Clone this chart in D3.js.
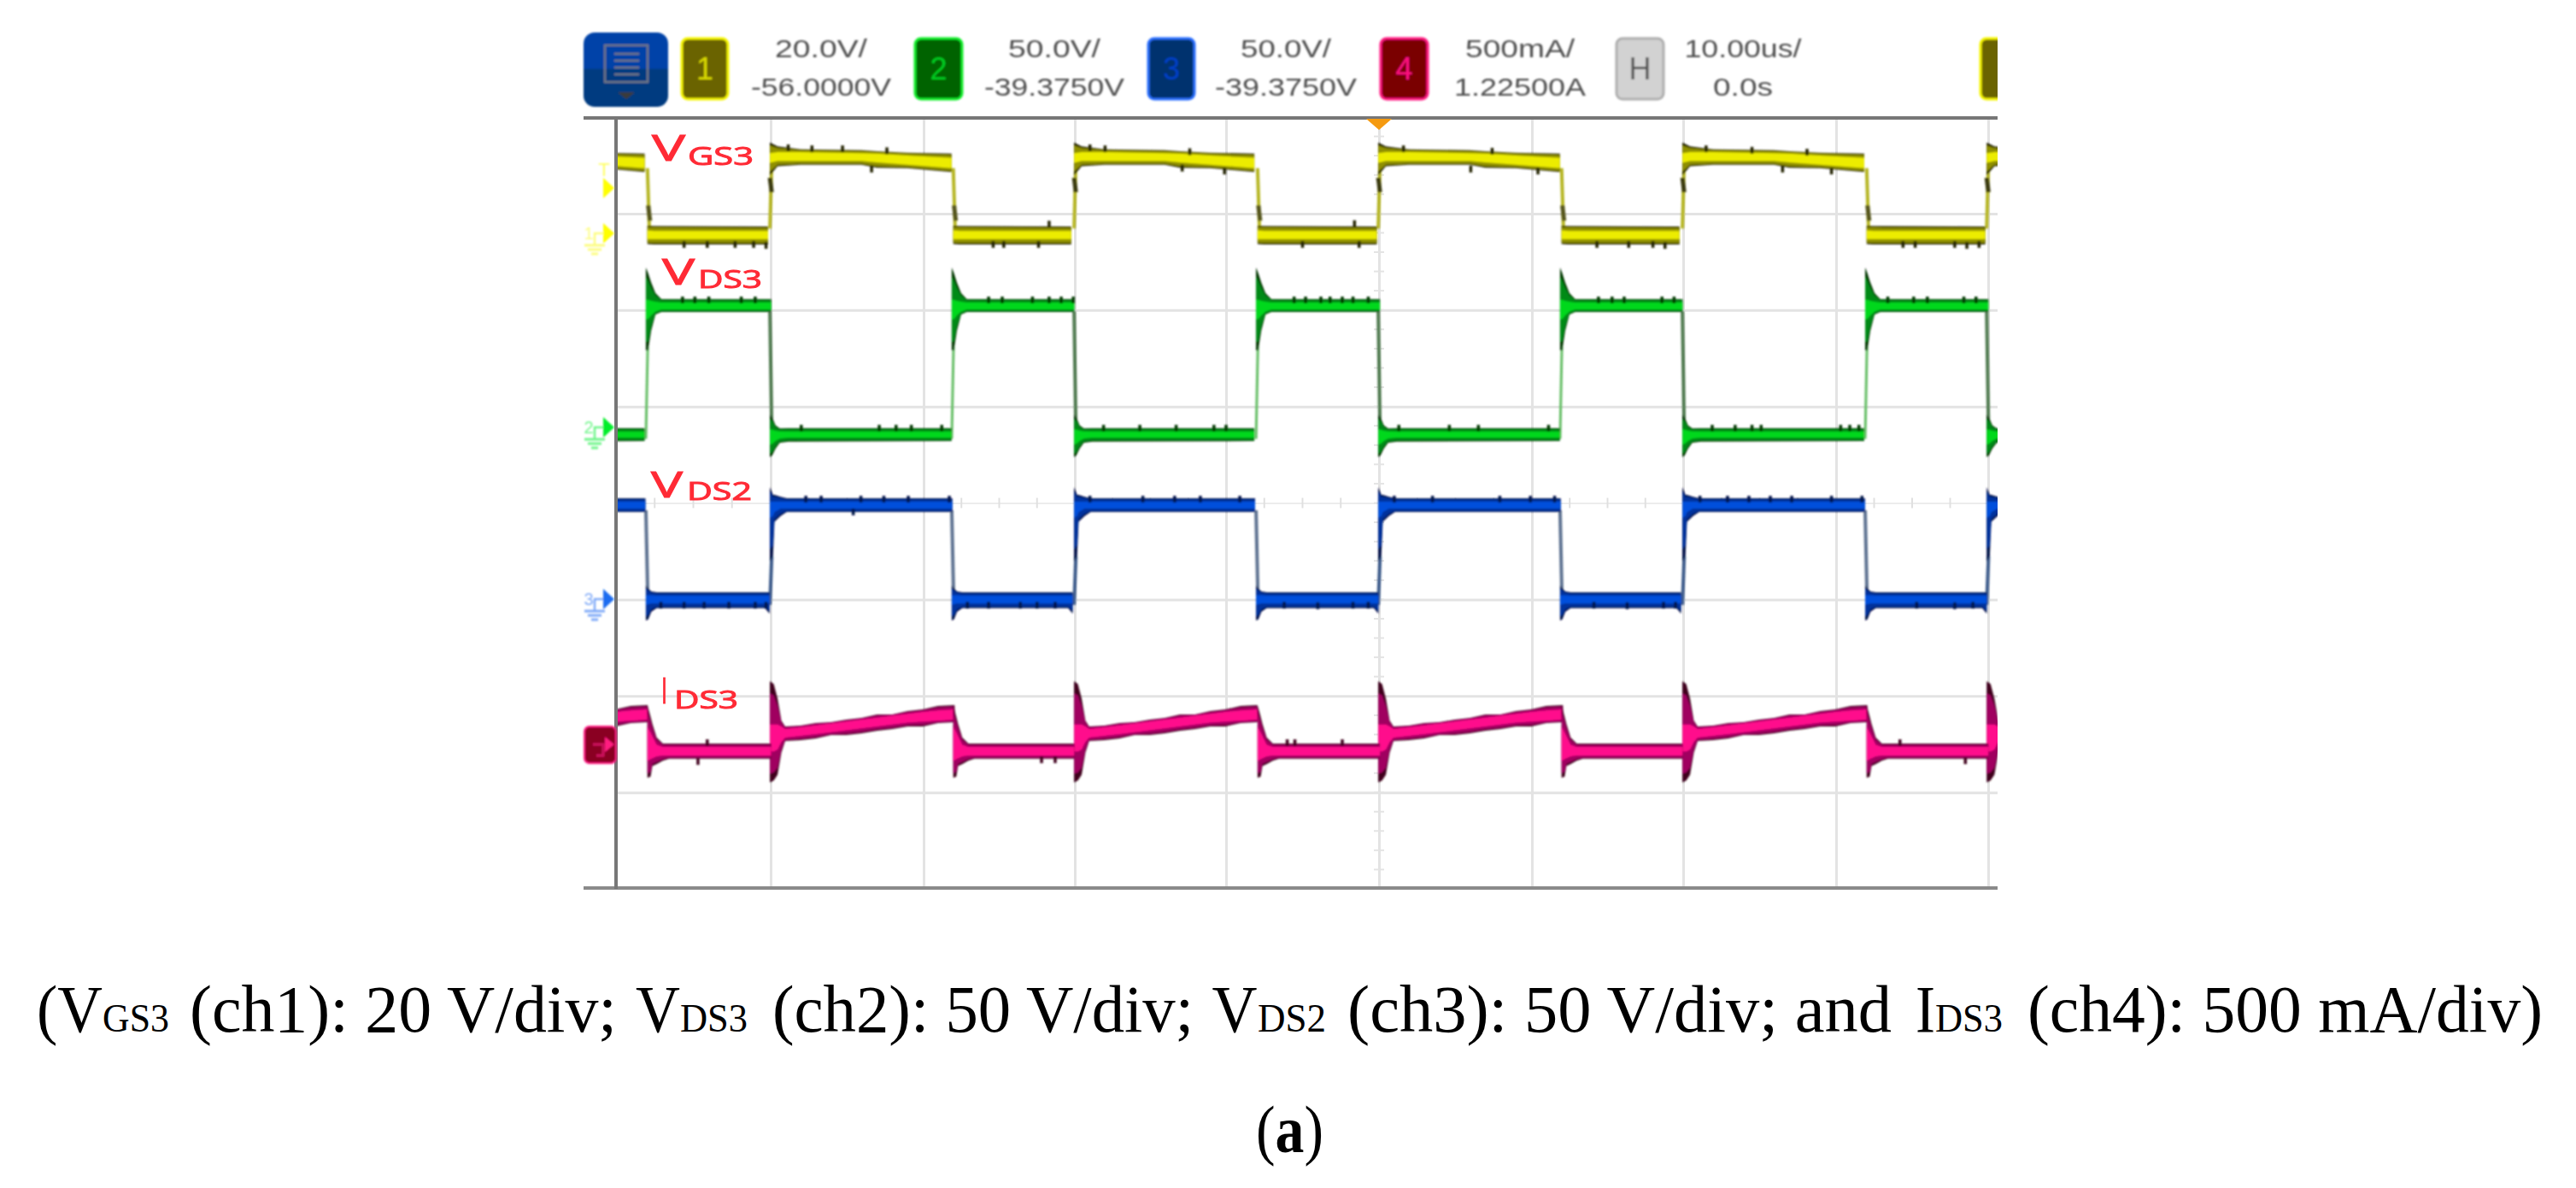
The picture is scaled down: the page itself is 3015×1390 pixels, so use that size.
<!DOCTYPE html><html><head><meta charset="utf-8"><script src="https://cdn.jsdelivr.net/npm/d3@7/dist/d3.min.js"></script>
<style>html,body{margin:0;background:#fff}svg{display:block}</style></head><body><script>
// ---- data (time in us, channels in V or A) ----
const gridTimes=[0,10,20,30,40,50,60,70,80,90];
const gridDivs=[0,1,2,3,4,5,6,7,8];
const riseTimes=[-10.05,9.95,29.95,49.95,69.95,89.9];
const fallTimes=[1.93,21.86,41.96,61.86,81.91];
// phase rows: [dt, outerTop, outerBottom, coreTop, coreBottom]
const ch1High=[[0,18.8,12,16.6,14.6],[0.5,18,13.9,16.8,15],[2,17.4,14.2,16.8,15],[6,17.2,14.2,16.6,15],[7,17,13.6,16.5,14.7],[9,16.7,13.5,16.1,14.2],[11.9,16.5,12.7,15.6,13.5]];
const ch1Low=[[0.1,1.6,-2.2,0.6,-1.2],[0.5,1.5,-2.3,0.5,-1.2],[7.9,1.4,-2.3,0.5,-1.2]];
const ch2High=[[0,82.7,39.8,66,56],[0.14,80,39.8,66,56],[0.34,75,50,65.5,58],[0.62,69.5,58.4,65,60],[1,66.4,59.7,64.6,61.1],[8.1,66.4,59.7,64.6,61.1]];
const ch2Low=[[0,6.6,-15.5,-1,-9],[0.15,5,-14.5,-1.2,-8.5],[0.37,1,-11,-1.8,-7],[0.65,-0.5,-8,-2.1,-5.8],[1.2,-0.4,-7.4,-2.2,-5.3],[11.9,-0.4,-7.1,-2.2,-5.3]];
const ch3High=[[0,58,19.5,50.4,42],[0.2,54,22,50.4,43],[0.3,54,40,50.4,45],[0.7,53,43,50.4,46.9],[1.1,52.2,45.1,50.4,46.9],[11.95,52.2,45.1,50.4,46.9]];
const ch3Low=[[0,7.1,-11.1,2,-3],[0.15,5.5,-10.5,2,-2.6],[0.35,4,-6.5,2,-2.2],[0.7,3.5,-4.6,1.8,-2.2],[7.7,3.5,-4.6,1.8,-2.2],[8,3.5,-7.5,1.8,-2.2]];
const ch4High=[[0,0.314,-0.21,0.09,-0.05],[0.25,0.3,-0.2,0.09,-0.05],[0.5,0.225,-0.17,0.09,-0.04],[0.75,0.11,-0.055,0.08,0],[1,0.08,0.004,0.066,0.022],[2,0.084,0.009,0.075,0.031],[3,0.097,0.018,0.085,0.04],[4,0.102,0.035,0.095,0.05],[5,0.115,0.035,0.105,0.06],[6,0.124,0.044,0.115,0.07],[7,0.142,0.058,0.125,0.08],[8,0.142,0.066,0.135,0.09],[9,0.159,0.08,0.145,0.1],[10,0.168,0.08,0.155,0.105],[11,0.186,0.097,0.163,0.11],[12.1,0.19,0.102,0.168,0.115]];
const ch4Low=[[0.1,0.19,-0.186,0.08,-0.1],[0.3,0.13,-0.18,0.05,-0.09],[0.42,0.093,-0.125,0.03,-0.085],[0.7,0.022,-0.115,-0.015,-0.075],[1.1,-0.009,-0.097,-0.027,-0.071],[1.5,-0.009,-0.087,-0.027,-0.071],[8.1,-0.009,-0.087,-0.027,-0.071]];
// noise spikes: [t, tip]
const ch1Up=[[11.15,18.4],[12.7,18.2],[14.7,18.2],[17.6,17.8],[28.3,2.6],[31,18.4],[32,18.2],[37.6,17.6],[48.4,2.7],[51.6,18.2],[57.4,17.7],[71.5,18.2],[74.5,17.9],[78.1,17.5]];
const ch1Down=[[4.4,-3],[5.9,-3],[7.7,-3],[8.9,-3],[9.7,-3.2],[16.6,12.6],[24.6,-3],[25.3,-3],[27.6,-3],[37.1,12.8],[39.9,12.2],[45,-3],[48.7,-3],[56,12.6],[60.4,12.2],[64.3,-3],[66.4,-3],[68,-3],[68.8,-3.2],[76.5,12.6],[79.7,12.2],[84.4,-3],[85.2,-3],[87.8,-3],[88.6,-3.2],[89.4,-3]];
const ch2Up=[[4.3,67.7],[5.1,67.7],[6,67.7],[8.1,67.7],[9,67.7],[12,1.3],[17.1,1.3],[18.2,1.3],[19.2,1.3],[21.2,1.3],[24.3,67.7],[25.2,67.7],[27.2,67.7],[28.3,67.7],[29.1,67.7],[29.9,67.7],[31.9,1.3],[34.3,1.3],[36.7,1.3],[39.2,1.3],[40,1.3],[44.45,67.7],[45.2,67.7],[46.2,67.7],[46.8,67.7],[47.6,67.7],[48.3,67.7],[49.3,67.7],[51.3,1.3],[54.6,1.3],[56.5,1.3],[61.1,1.3],[64.4,67.7],[65.3,67.7],[66.1,67.7],[68.6,67.7],[69.4,67.7],[71.9,1.3],[73.4,1.3],[74.5,1.3],[75.1,1.3],[80.3,1.3],[80.9,1.3],[81.5,1.3],[83.4,67.7],[85.1,67.7],[86,67.7],[88.4,67.7],[89.2,67.7]];
const ch3Up=[[12.3,53.5],[13.3,53.5],[15.9,53.5],[17.4,53.5],[19,53.5],[21.7,53.5],[31,53.5],[34.5,53.5],[36.6,53.5],[38.3,53.5],[40.9,53.5],[51,53.5],[53.5,53.5],[57.9,53.5],[59.9,53.5],[61.5,53.5],[71.1,53.5],[72.9,53.5],[74.3,53.5],[75.7,53.5],[77.1,53.5],[79.7,53.5],[81.7,53.5]];
const ch3Down=[[2.9,-4.9],[4.4,-4.9],[5.7,-4.9],[7.3,-4.9],[9,-4.9],[9.7,-4.9],[15.4,43.4],[22.9,-4.9],[24.3,-4.9],[26.4,-4.9],[27.5,-4.9],[28.7,-4.9],[43.8,-4.9],[46,-5.2],[48.3,-4.9],[49.3,-4.9],[64.1,-4.9],[66.3,-5.2],[68.7,-4.9],[69.5,-4.9],[85.3,-4.9],[87.8,-5.2],[89,-4.9]];
const ch4Up=[[5.9,0.013],[44,0.013],[44.5,0.013],[47.6,0.013],[84.2,0.013]];
const ch4Down=[[5.3,-0.119],[27.8,-0.11],[28.7,-0.11],[88.5,-0.115]];
// edge transitions [fromValue,toValue]
const ch1FallEdge=[13.5,1.4], ch1RiseEdge=[1,15], ch1FallBlob=[5.8,2.6], ch1RiseBlob=[11.5,8.5];
const ch2RiseEdge=[-6,42], ch2FallEdge=[60,-1];
const ch3FallEdge=[46,3], ch3RiseEdge=[-3,22];
// header
const menuLabels=["1","2","3","4","H"];
const scaleLabels=["20.0V/","50.0V/","50.0V/","500mA/","10.00us/"];
const offsetLabels=["-56.0000V","-39.3750V","-39.3750V","1.22500A","0.0s"];
const captionParts=["(V","GS3","(ch1): 20 V/div;","V","DS3","(ch2): 50 V/div;","V","DS2","(ch3): 50 V/div; and","I","DS3","(ch4): 500 mA/div)"];

// ---- page ----
const svg=d3.select("body").append("svg").attr("width",3015).attr("height",1390);
const defs=svg.append("defs");
[["blurMark",0.9],["blurText",1.0],["blurGrid",0.7]].forEach(([id,sd])=>defs.append("filter").attr("id",id)
  .attr("x","-5%").attr("y","-5%").attr("width","110%").attr("height","110%")
  .append("feGaussianBlur").attr("stdDeviation",sd));
defs.append("clipPath").attr("id","plotClip").append("rect").attr("x",721).attr("y",136).attr("width",1617).attr("height",904);
const mg=defs.append("linearGradient").attr("id","menuFill").attr("x1",0).attr("x2",0).attr("y1",0).attr("y2",1);
[[0,"#0342a8"],[.48,"#0342a8"],[.5,"#053b80"],[1,"#053b80"]].forEach(([o,c])=>mg.append("stop").attr("offset",o).attr("stop-color",c));

const x=d3.scaleLinear().domain([...gridTimes,90.6]).range([721,902,1081,1258,1435,1614,1793,1970,2149,2327,2338]);
const yDiv=d3.scaleLinear().domain([0,8]).range([137,1040]);

// grid via axes
const grid=svg.append("g").attr("filter","url(#blurGrid)");
const gx=grid.append("g").attr("transform","translate(0,1039)")
  .call(d3.axisBottom(x).tickValues(gridTimes.slice(1)).tickSize(-901).tickFormat(""));
const gy=grid.append("g").attr("transform","translate(721,0)")
  .call(d3.axisLeft(yDiv).tickValues(gridDivs.slice(1,8)).tickSize(-1617).tickFormat(""));
[gx,gy].forEach(g=>{g.select(".domain").remove();g.selectAll("line").attr("stroke","#e3e3e3").attr("stroke-width",3)});
gy.selectAll("line").filter(d=>d===4).attr("stroke","#ececec").attr("stroke-width",2);
// centre graticule ticks
grid.append("g").selectAll("line").data(d3.range(0,90.1,2.5)).join("line")
  .attr("x1",d=>x(d)).attr("x2",d=>x(d)).attr("y1",yDiv(4)-6).attr("y2",yDiv(4)+6).attr("stroke","#e0e0e0").attr("stroke-width",2);
grid.append("g").selectAll("line").data(d3.range(0,8.01,0.2)).join("line")
  .attr("x1",x(50)-6).attr("x2",x(50)+6).attr("y1",d=>yDiv(d)).attr("y2",d=>yDiv(d)).attr("stroke","#e4e4e4").attr("stroke-width",2);

// dashed level line
svg.append("line").attr("x1",721).attr("x2",2338).attr("y1",566).attr("y2",566)
  .attr("stroke","#fdcf94").attr("stroke-width",5).attr("stroke-dasharray","26 7").attr("filter","url(#blurGrid)");

const channels=[
 {perDiv:20,zero:273,dark:"#242400",mid:"#8f8f00",core:"#ecec00",high:ch1High,low:ch1Low,highAt:riseTimes,lowAt:fallTimes,up:ch1Up,down:ch1Down},
 {perDiv:50,zero:500,dark:"#063806",mid:"#048a18",core:"#00d81c",high:ch2High,low:ch2Low,highAt:fallTimes,lowAt:riseTimes,up:ch2Up,down:[]},
 {perDiv:50,zero:701,dark:"#001248",mid:"#00309c",core:"#0050dc",high:ch3High,low:ch3Low,highAt:riseTimes,lowAt:fallTimes,up:ch3Up,down:ch3Down},
 {perDiv:0.5,zero:868,dark:"#40001f",mid:"#a00060",core:"#ff0a8c",high:ch4High,low:ch4Low,highAt:riseTimes,lowAt:fallTimes,up:ch4Up,down:ch4Down}
];
channels.forEach(c=>c.y=d3.scaleLinear().domain([0,c.perDiv]).range([c.zero,c.zero-113]));

const traces=svg.append("g").attr("clip-path","url(#plotClip)").append("g").attr("filter","url(#blurMark)");
function edge(g,c,t,vals,color,w){
  g.append("path").attr("d",d3.line()([[x(t),c.y(vals[0])],[x(t+0.12),c.y(vals[1])]]))
   .attr("stroke",color).attr("stroke-width",w).attr("fill","none");
}
const edgesG=traces.append("g");
riseTimes.forEach(t=>{
  edge(edgesG,channels[0],t,ch1RiseEdge,"#b5b520",4);
  edge(edgesG,channels[0],t,ch1RiseBlob,"#3a3a10",5);
  edge(edgesG,channels[1],t,ch2FallEdge,"#4f7a4f",4);
  edge(edgesG,channels[2],t,ch3RiseEdge,"#3c5c8c",4);
});
fallTimes.forEach(t=>{
  edge(edgesG,channels[0],t+0.1,ch1FallEdge,"#b5b520",4);
  edge(edgesG,channels[0],t+0.15,ch1FallBlob,"#55551a",5);
  edge(edgesG,channels[1],t,ch2RiseEdge,"#63bd63",3);
  edge(edgesG,channels[2],t,ch3FallEdge,"#5d7291",4);
});
channels.forEach(c=>{
  const g=traces.append("g");
  const phases=[...c.highAt.map(t=>[t,c.high]),...c.lowAt.map(t=>[t,c.low])];
  phases.forEach(([t0,rows])=>{
    const outer=d3.area().x(r=>x(t0+r[0])).y0(r=>c.y(r[2])).y1(r=>c.y(r[1]));
    const core=d3.area().x(r=>x(t0+r[0])).y0(r=>c.y(r[4])).y1(r=>c.y(r[3]));
    // intermediate tone sits most of the way from the core out to the envelope
    const mid=d3.area().x(r=>x(t0+r[0])).y0(r=>c.y(r[4]+(r[2]-r[4])*0.72)).y1(r=>c.y(r[3]+(r[1]-r[3])*0.72));
    g.append("path").attr("d",outer(rows)).attr("fill",c.dark);
    g.append("path").attr("d",mid(rows)).attr("fill",c.mid);
    g.append("path").attr("d",core(rows)).attr("fill",c.core);
  });
  const sp=(arr,dir)=>g.append("g").selectAll("line").data(arr).join("line")
    .attr("x1",d=>x(d[0])).attr("x2",d=>x(d[0]))
    .attr("y1",d=>c.y(d[1])).attr("y2",d=>c.y(d[1])+dir*8)
    .attr("stroke",c.dark).attr("stroke-width",3.5);
  sp(c.up,1); sp(c.down,-1);
});

// frame
const frame=svg.append("g").attr("filter","url(#blurGrid)").attr("stroke","#777");
frame.append("line").attr("x1",683).attr("x2",2338).attr("y1",138).attr("y2",138).attr("stroke-width",4);
frame.append("line").attr("x1",683).attr("x2",2338).attr("y1",1039).attr("y2",1039).attr("stroke-width",4).attr("stroke","#8a8a8a");
frame.append("line").attr("x1",721).attr("x2",721).attr("y1",138).attr("y2",1040).attr("stroke-width",4);
svg.append("path").attr("d",d3.line()([[x(50)-15,139],[x(50)+15,139],[x(50),152]])).attr("fill","#f59a10");

// header
const head=svg.append("g").attr("filter","url(#blurText)");
head.append("rect").attr("x",683).attr("y",38).attr("width",99).attr("height",87).attr("rx",13).attr("fill","url(#menuFill)");
head.append("rect").attr("x",708).attr("y",53).attr("width",50).attr("height",43).attr("fill","none").attr("stroke","#6d7686").attr("stroke-width",2.5);
head.selectAll("line.m").data([0,1,2,3]).join("line").attr("x1",719).attr("x2",748)
  .attr("y1",d=>63+d*8).attr("y2",d=>63+d*8).attr("stroke","#6d7686").attr("stroke-width",2.5);
head.append("path").attr("d",d3.line()([[723,108],[743,108],[733,116]])).attr("fill","#3a3a3a");
const boxX=[798,1071,1344,1616,1892], boxW=[54,55,54,55,55];
const boxFill=["#6b6400","#006400","#00306e","#7a0000","#d2d2d2"], boxStroke=["#f5f500","#12ee2a","#2b6eff","#ff1a80","#aeaeae"], boxText=["#d8d800","#00cc20","#0040c8","#ff1080","#555"];
const lblCx=[961,1234,1505,1779,2040], w1=[108,108,106,128,137], w2=[164,164,166,154,70];
menuLabels.forEach((m,i)=>{
  head.append("rect").attr("x",boxX[i]).attr("y",45).attr("width",boxW[i]).attr("height",71).attr("rx",7)
    .attr("fill",boxFill[i]).attr("stroke",boxStroke[i]).attr("stroke-width",3);
  head.append("text").attr("x",boxX[i]+boxW[i]/2).attr("y",93).attr("text-anchor","middle")
    .attr("font-family","Liberation Sans").attr("font-size",36).attr("fill",boxText[i]).text(m);
  [[scaleLabels[i],67,w1[i]],[offsetLabels[i],112,w2[i]]].forEach(([s,yy,w])=>
    head.append("text").attr("x",lblCx[i]).attr("y",yy).attr("text-anchor","middle")
      .attr("font-family","Liberation Sans").attr("font-size",29).attr("fill","#505050")
      .attr("textLength",w).attr("lengthAdjust","spacingAndGlyphs").text(s));
});
head.append("rect").attr("x",2318).attr("y",45).attr("width",30).attr("height",71).attr("rx",7).attr("fill","#6b6400").attr("stroke","#f5f500").attr("stroke-width",3);
svg.append("rect").attr("x",2338).attr("y",30).attr("width",40).attr("height",100).attr("fill","#fff");

// left markers
const marks=svg.append("g").attr("filter","url(#blurText)");
const tri=y=>d3.line()([[706,y-12],[719,y],[706,y+12]]);
const mcol=["#ffff00","#00ee2a","#1a6cf0"], mpale=["#fdfd80","#70f58a","#80aaf8"], mid=["1","2","3"];
channels.slice(0,3).forEach((c,i)=>{
  const y0=c.y(0);
  marks.append("path").attr("d",tri(y0)).attr("fill",mcol[i]);
  marks.append("path").attr("d",d3.line()([[706,y0],[696,y0],[696,y0+14]])).attr("fill","none").attr("stroke",mpale[i]).attr("stroke-width",2.5);
  [[24,14],[16,19],[8,24]].forEach(([w,dy])=>marks.append("line").attr("x1",696-w/2).attr("x2",696+w/2).attr("y1",y0+dy).attr("y2",y0+dy).attr("stroke",mpale[i]).attr("stroke-width",3));
  marks.append("text").attr("x",689).attr("y",y0+7).attr("text-anchor","middle").attr("font-family","Liberation Sans").attr("font-size",20).attr("fill",mpale[i]).text(mid[i]);
});
marks.append("text").attr("x",707).attr("y",206).attr("text-anchor","middle").attr("font-family","Liberation Sans").attr("font-size",22).attr("fill","#ffff60").text("T");
marks.append("path").attr("d",tri(220)).attr("fill","#ffff00");
marks.append("rect").attr("x",684).attr("y",850).attr("width",37).attr("height",43).attr("rx",6).attr("fill","#8a0020").attr("stroke","#ff1a80").attr("stroke-width",2);
marks.append("path").attr("d",d3.line()([[694,871],[706,871],[706,884],[698,884]])).attr("fill","none").attr("stroke","#d01060").attr("stroke-width",3);
marks.append("path").attr("d",d3.line()([[708,862],[719,871],[708,880]])).attr("fill","#ff1a80");

// trace labels
const labelG=svg.append("g").attr("filter","url(#blurGrid)").attr("font-family","Open Sans").attr("fill","#ff2a35").attr("stroke","#ff2a35").attr("stroke-width",1);
const labels=[["V",763,188,39,30],["GS3",805,193,77,21],["V",775,333,38,30],["DS3",817,337,75,21],["V",762,582,37,30],["DS2",804,585,76,21],["I",774,823,7,30],["DS3",789,829,75,21]];
labels.forEach(([s,lx,ly,w,h])=>labelG.append("text").attr("x",lx).attr("y",ly).attr("font-size",h/0.714)
  .attr("textLength",w).attr("lengthAdjust","spacingAndGlyphs").text(s));

// caption
const capX=[43,120,222,744,796,904,1418.5,1472,1577,2242,2265,2373], capW=[77,78,500,52,79,493,53,80,637,23,79,603];
const capSub=[0,1,0,0,1,0,0,1,0,0,1,0];
const cap=svg.append("g").attr("font-family","Liberation Serif").attr("fill","#000");
captionParts.forEach((s,i)=>cap.append("text").attr("x",capX[i]).attr("y",1207).attr("font-size",capSub[i]?47:79)
  .attr("textLength",capW[i]).attr("lengthAdjust","spacingAndGlyphs").text(s));
const pa=svg.append("text").attr("x",1470).attr("y",1348).attr("font-family","Liberation Serif").attr("font-size",79).attr("textLength",79).attr("lengthAdjust","spacingAndGlyphs");
pa.append("tspan").text("(");pa.append("tspan").attr("font-weight","bold").text("a");pa.append("tspan").text(")");
</script></body></html>
